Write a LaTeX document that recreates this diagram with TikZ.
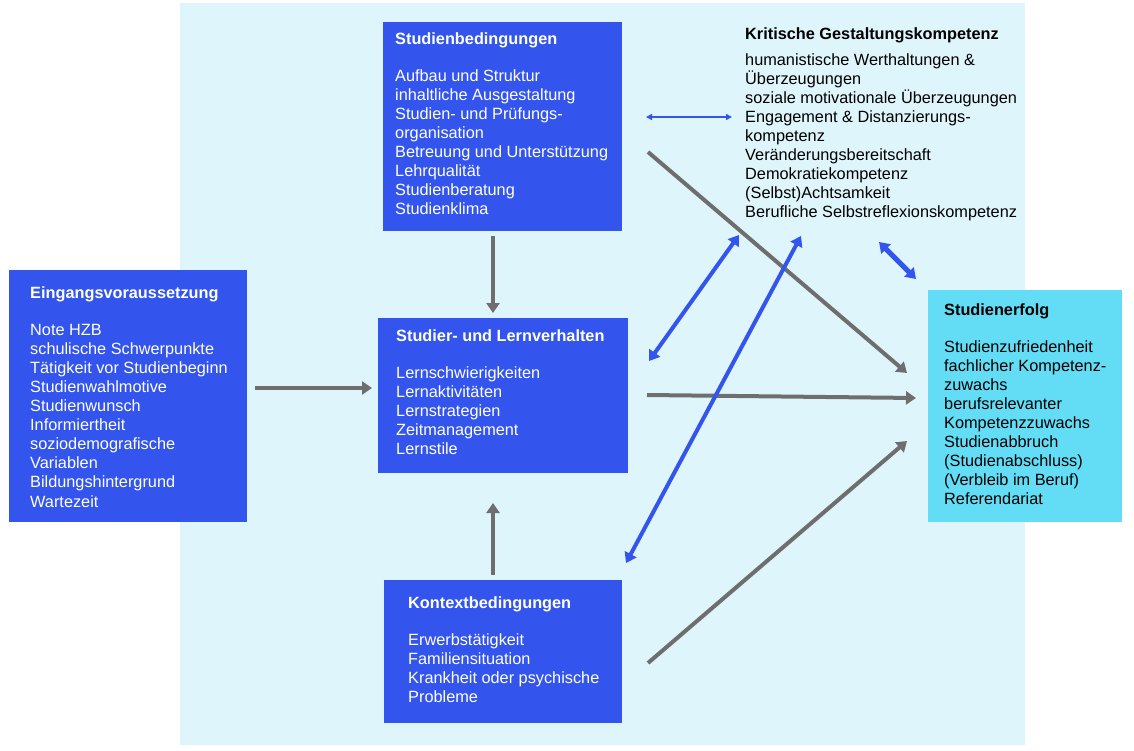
\documentclass[tikz,border=0pt]{standalone}
\usepackage{fontspec}
\setmainfont{Liberation Sans}
\usetikzlibrary{arrows.meta}
\definecolor{bgblue}{RGB}{223,245,252}
\definecolor{boxblue}{RGB}{51,85,238}
\definecolor{boxcyan}{RGB}{99,221,245}
\definecolor{arrgray}{RGB}{110,110,110}
\tikzset{
  box/.style={draw=none, inner sep=0pt, anchor=north west},
  btext/.style={anchor=north west, inner sep=0pt, align=left, font=\fontsize{16.3}{19.1}\selectfont},
  garrow/.style={draw=arrgray, line width=4pt, -{Triangle[length=10pt,width=13pt]}},
  barrow/.style={draw=boxblue, line width=4pt, {Triangle[length=10pt,width=13pt]}-{Triangle[length=10pt,width=13pt]}},
  bthin/.style={draw=boxblue, line width=1.8pt, {Triangle[length=6pt,width=6pt]}-{Triangle[length=6pt,width=6pt]}}
}
\begin{document}
\begin{tikzpicture}[x=1pt,y=-1pt]
\useasboundingbox (0,0) rectangle (1134,751);
\fill[white] (0,0) rectangle (1134,751);
\fill[bgblue] (180,3) rectangle (1025,745);
% boxes
\fill[boxblue] (383,22) rectangle (622,231);
\fill[boxblue] (9,270) rectangle (247,522);
\fill[boxblue] (378,318) rectangle (628,473);
\fill[boxblue] (384,580) rectangle (622,723);
\fill[boxcyan] (928,290) rectangle (1122,522);
\node[box, minimum width=239pt, minimum height=209pt] (sb) at (383,22) {};
\node[box, minimum width=238pt, minimum height=252pt] (ev) at (9,270) {};
\node[box, minimum width=250pt, minimum height=155pt] (sl) at (378,318) {};
\node[box, minimum width=238pt, minimum height=143pt] (kb) at (384,580) {};
\node[box, minimum width=194pt, minimum height=232pt] (se) at (928,290) {};
% texts
\node[btext, text=white] (sbt) at (395,32) {\textbf{Studienbedingungen}\\[18pt]
Aufbau und Struktur\\ inhaltliche Ausgestaltung\\ Studien- und Prüfungs-\\ organisation\\
Betreuung und Unterstützung\\ Lehrqualität\\ Studienberatung\\ Studienklima};
\node[btext, text=white] (evt) at (30,286) {\textbf{Eingangsvoraussetzung}\\[18pt]
Note HZB\\ schulische Schwerpunkte\\ Tätigkeit vor Studienbeginn\\ Studienwahlmotive\\
Studienwunsch\\ Informiertheit\\ soziodemografische\\ Variablen\\ Bildungshintergrund\\ Wartezeit};
\node[btext, text=white] (slt) at (396,329) {\textbf{Studier- und Lernverhalten}\\[18pt]
Lernschwierigkeiten\\ Lernaktivitäten\\ Lernstrategien\\ Zeitmanagement\\ Lernstile};
\node[btext, text=white] (kbt) at (408,596) {\textbf{Kontextbedingungen}\\[18pt]
Erwerbstätigkeit\\ Familiensituation\\ Krankheit oder psychische\\ Probleme};
\node[btext, text=black] (set) at (944,303) {\textbf{Studienerfolg}\\[18pt]
Studienzufriedenheit\\ fachlicher Kompetenz-\\ zuwachs\\ berufsrelevanter\\ Kompetenzzuwachs\\
Studienabbruch\\ (Studienabschluss)\\ (Verbleib im Beruf)\\ Referendariat};
\node[btext, text=black] (kg) at (745,27) {\textbf{Kritische Gestaltungskompetenz}\\[7pt]
humanistische Werthaltungen \&\\ Überzeugungen\\ soziale motivationale Überzeugungen\\
Engagement \& Distanzierungs-\\ kompetenz\\ Veränderungsbereitschaft\\ Demokratiekompetenz\\
(Selbst)Achtsamkeit\\ Berufliche Selbstreflexionskompetenz};
% connector end points
\coordinate (a1s) at (255,388); \coordinate (a1e) at (372,388);
\coordinate (a2s) at (493,236); \coordinate (a2e) at (493,313);
\coordinate (a3s) at (493,575); \coordinate (a3e) at (493,503);
\coordinate (a4s) at (647,395); \coordinate (a4e) at (916,398);
\coordinate (a5s) at (648,152); \coordinate (a5e) at (907,373);
\coordinate (a6s) at (648,663); \coordinate (a6e) at (907,441);
\coordinate (b1s) at (646,117); \coordinate (b1e) at (732,117);
\coordinate (b2s) at (879,242); \coordinate (b2e) at (916,279);
\coordinate (b3s) at (649,361); \coordinate (b3e) at (739,235);
\coordinate (b4s) at (626,563); \coordinate (b4e) at (801,236);
% gray arrows
\draw[garrow] (a1s) -- (a1e);
\draw[garrow] (a2s) -- (a2e);
\draw[garrow] (a3s) -- (a3e);
\draw[garrow] (a4s) -- (a4e);
\draw[garrow] (a5s) -- (a5e);
\draw[garrow] (a6s) -- (a6e);
% blue arrows
\draw[bthin] (b1s) -- (b1e);
\draw[barrow, line width=5pt] (b2s) -- (b2e);
\draw[barrow] (b3s) -- (b3e);
\draw[barrow] (b4s) -- (b4e);
\end{tikzpicture}
\end{document}
